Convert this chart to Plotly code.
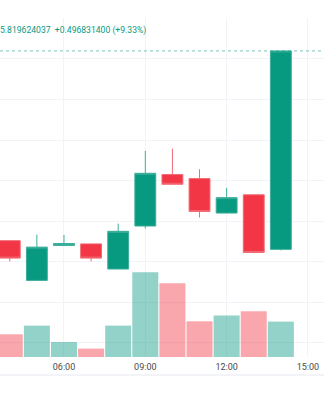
import plotly.graph_objects as go
import pandas as pd

times = ["2024-01-02 04:00", "2024-01-02 05:00", "2024-01-02 06:00", "2024-01-02 07:00",
         "2024-01-02 08:00", "2024-01-02 09:00", "2024-01-02 10:00", "2024-01-02 11:00",
         "2024-01-02 12:00", "2024-01-02 13:00", "2024-01-02 14:00"]
opens = [5.352, 5.254, 5.340, 5.344, 5.282, 5.388, 5.515, 5.505, 5.420, 5.465, 5.3305]
highs = [5.352, 5.367, 5.366, 5.344, 5.394, 5.573, 5.579, 5.528, 5.482, 5.465, 5.819624037]
lows = [5.301, 5.254, 5.340, 5.301, 5.282, 5.382, 5.491, 5.409, 5.420, 5.321, 5.328]
closes = [5.309, 5.336, 5.345, 5.309, 5.375, 5.518, 5.491, 5.424, 5.458, 5.322792637, 5.819624037]
volumes = [2270, 3140, 1500, 840, 3140, 8470, 7370, 3570, 4140, 4570, 3540]

last_price = 5.819624037
change = 0.496831400
change_pct = 9.33

GREEN = "#089981"
RED = "#F23645"

x = pd.to_datetime(times)
vol_colors = ["rgba(8,153,129,0.44)" if c >= o else "rgba(242,54,69,0.44)"
              for o, c in zip(opens, closes)]

fig = go.Figure()
fig.add_trace(go.Bar(
    x=x, y=volumes, yaxis="y2", marker=dict(color=vol_colors, line=dict(width=0)),
    width=3600000 * 0.96, hoverinfo="skip", showlegend=False,
))
fig.add_trace(go.Candlestick(
    x=x, open=opens, high=highs, low=lows, close=closes,
    increasing=dict(line=dict(color="#3dae9b", width=1), fillcolor=GREEN),
    decreasing=dict(line=dict(color="#f26a74", width=1), fillcolor=RED),
    whiskerwidth=0, showlegend=False, yaxis="y",
))

fig.add_shape(type="line", xref="paper", x0=0, x1=1, yref="y", y0=last_price, y1=last_price,
              line=dict(color="rgba(8,153,129,0.55)", width=1, dash="dot"))
fig.add_shape(type="line", xref="paper", x0=0, x1=1, yref="paper", y0=-0.0531, y1=-0.0531,
              line=dict(color="#e6e8ee", width=1))

fig.add_annotation(
    xref="paper", yref="paper", x=0, y=0.9646, xanchor="left", yanchor="middle",
    xshift=-2,
    text=f"{last_price:.9f}  +{change:.9f} (+{change_pct:.2f}%)", showarrow=False,
    font=dict(family="Roboto", size=8.6, color=GREEN),
)

fig.update_layout(
    width=324, height=400,
    margin=dict(l=0, r=0, t=18, b=43),
    paper_bgcolor="white", plot_bgcolor="white",
    boxgap=0.23, boxgroupgap=0,
    xaxis=dict(
        type="date",
        range=["2024-01-02 03:38:24", "2024-01-02 15:35:30"],
        tickformat="%H:%M", dtick=3 * 3600000, tick0="2024-01-02 00:00",
        showgrid=True, gridcolor="#f2f3f6", gridwidth=1,
        zeroline=False, showline=False, ticks="", ticklabelstandoff=3,
        tickfont=dict(family="Roboto", size=9, color="#4a4a4a"),
        rangeslider=dict(visible=False), fixedrange=True,
    ),
    yaxis=dict(
        range=[5.0652, 5.9008], dtick=0.1, tick0=5.0,
        showgrid=True, gridcolor="#f2f3f6", gridwidth=1,
        showticklabels=False, zeroline=False, showline=False,
    ),
    yaxis2=dict(
        overlaying="y", range=[0, 33900], showgrid=False, showticklabels=False,
        zeroline=False, showline=False,
    ),
    font=dict(family="Roboto"),
)

fig.write_html("out.html")
